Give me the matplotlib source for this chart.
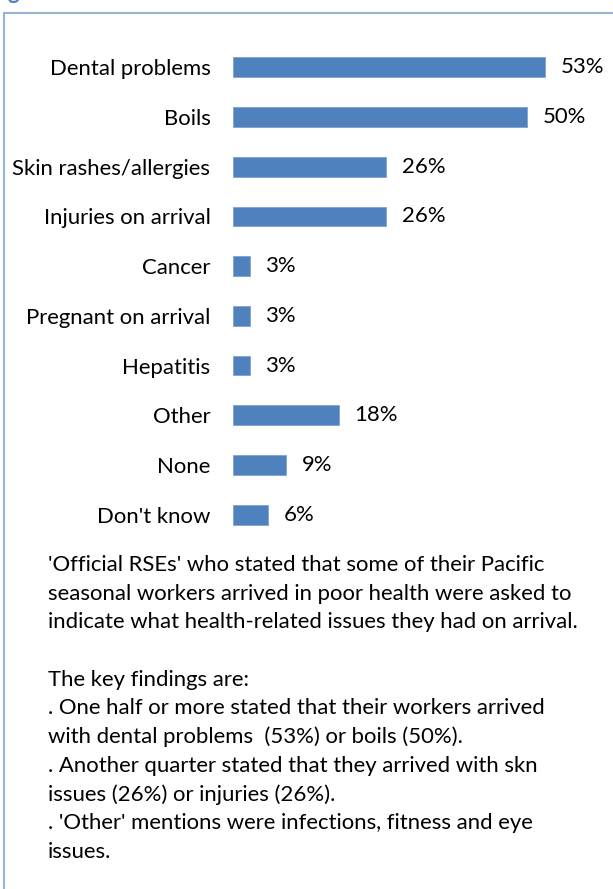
"""Health issues on arrival reported by official RSEs - horizontal bar chart."""

import matplotlib
matplotlib.use("Agg")
import matplotlib.pyplot as plt
from matplotlib.patches import Rectangle

plt.rcParams["font.family"] = ["Lato", "DejaVu Sans"]

categories = [
    "Dental problems",
    "Boils",
    "Skin rashes/allergies",
    "Injuries on arrival",
    "Cancer",
    "Pregnant on arrival",
    "Hepatitis",
    "Other",
    "None",
    "Don't know",
]
percent = [53, 50, 26, 26, 3, 3, 3, 18, 9, 6]

notes = [
    "'Official RSEs' who stated that some of their Pacific",
    "seasonal workers arrived in poor health were asked to",
    "indicate what health-related issues they had on arrival.",
    "",
    "The key findings are:",
    ". One half or more stated that their workers arrived",
    "with dental problems  (53%) or boils (50%).",
    ". Another quarter stated that they arrived with skn",
    "issues (26%) or injuries (26%).",
    ". 'Other' mentions were infections, fitness and eye",
    "issues.",
]

W, H = 613, 889
BAR = "#4F81BD"
FS = 15.9

fig = plt.figure(figsize=(W / 100, H / 100), dpi=100)

# frame of the text box (cropped on the right and bottom)
fig.patches.append(Rectangle((3.5 / W, -0.1), 1.2, 1 - 12.5 / H + 0.1,
                             transform=fig.transFigure, fill=False,
                             edgecolor="#95B3D7", linewidth=1.5))
# remains of the heading cut off above
fig.text(8 / W, 1 + 1 / H, "g", color="#4F81BD", fontsize=16,
         fontweight="bold", va="baseline", ha="left")

left, right = 232.7, 232.7 + 60 * 5.89
top, bottom = 42.5, 539.5
ax = fig.add_axes([left / W, 1 - bottom / H, (right - left) / W, (bottom - top) / H])

y = list(range(len(categories)))
ax.barh(y, percent, height=0.4, color=BAR, edgecolor="#7FA3D1", linewidth=0.6)
ax.set_xlim(0, 60)
ax.set_ylim(len(categories) - 0.5, -0.5)
ax.set_yticks(y, categories, fontsize=FS)
ax.tick_params(axis="y", length=0, pad=16)
ax.set_xticks([])
for s in ax.spines.values():
    s.set_visible(False)
ax.patch.set_alpha(0)

for yi, v in zip(y, percent):
    ax.annotate(f"{v}%", (v, yi), xytext=(11.5, 0), textcoords="offset points",
                va="center", ha="left", fontsize=FS)

for i, line in enumerate(notes):
    fig.text(48 / W, 1 - (565 + i * 28.7) / H, line, fontsize=FS,
             va="center", ha="left")

fig.savefig("out.png", dpi=100)
